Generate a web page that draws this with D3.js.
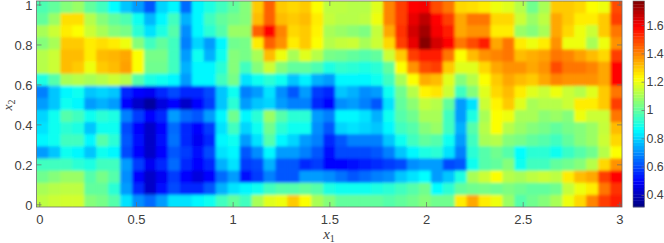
<!DOCTYPE html>
<html>
<head>
<meta charset="utf-8">
<title>Heat map</title>
<script src="https://d3js.org/d3.v7.min.js"></script>
<style>
  html, body { margin: 0; padding: 0; background: #fff; }
  svg { display: block; }
  text { font-family: "Liberation Sans", sans-serif; fill: #404040; }
</style>
</head>
<body>
<div id="home"></div>
<script>
// values, top row (x2 = 1) first
const row0  = [.97,1.0,1.05,1.08,1.0,.95,.86,.78,.72,.62,.8,.85,.65,.85,.9,.95,1.0,1.05,1.3,1.45,1.3,1.28,1.3,1.22,1.13,1.13,1.12,1.12,1.18,1.4,1.5,1.58,1.6,1.48,1.42,1.28,1.27,1.25,1.2,1.18,1.12,1.02,1.1,1.3,1.3,1.28,1.22,1.2,1.48];
const row1  = [1.0,1.08,1.27,1.27,1.12,1.05,1.0,.97,.88,.76,.85,.95,.75,.85,.95,1.0,1.03,1.05,1.32,1.45,1.32,1.3,1.32,1.25,1.14,1.12,1.12,1.13,1.2,1.4,1.5,1.62,1.68,1.58,1.5,1.35,1.42,1.42,1.28,1.28,1.15,1.08,1.13,1.35,1.3,1.25,1.25,1.3,1.5];
const row2  = [1.1,1.15,1.25,1.22,1.15,1.1,1.05,1.03,.92,.82,.9,.98,.7,.85,.92,.98,1.08,1.08,1.45,1.58,1.4,1.28,1.3,1.24,1.1,1.08,1.06,1.04,1.14,1.35,1.52,1.65,1.72,1.6,1.55,1.35,1.38,1.38,1.25,1.25,1.08,1.05,1.1,1.35,1.28,1.2,1.15,1.3,1.42];
const row3  = [1.05,1.1,1.3,1.3,1.25,1.27,1.25,1.2,1.05,.95,1.0,.95,.68,.8,.72,.85,1.02,1.03,1.25,1.45,1.38,1.25,1.3,1.22,1.12,1.14,1.15,1.1,1.15,1.28,1.5,1.62,1.76,1.65,1.58,1.42,1.48,1.55,1.35,1.42,1.25,1.2,1.25,1.38,1.2,1.2,1.1,1.2,1.38];
const row4  = [1.12,1.15,1.32,1.32,1.25,1.32,1.33,1.35,1.22,1.03,1.03,.95,.72,.88,.75,.88,1.05,1.03,1.1,1.32,1.2,1.1,1.18,1.12,1.03,1.02,1.0,.98,1.0,1.15,1.3,1.5,1.55,1.55,1.42,1.22,1.32,1.38,1.4,1.42,1.32,1.34,1.36,1.42,1.4,1.36,1.32,1.28,1.5];
const row5  = [1.12,1.15,1.32,1.3,1.2,1.3,1.32,1.36,1.22,1.02,1.02,.95,.75,.85,.85,.92,1.05,.95,1.05,1.15,1.05,1.0,1.0,.97,.9,.93,.92,.9,.92,1.0,1.22,1.38,1.48,1.5,1.3,1.18,1.18,1.28,1.35,1.38,1.38,1.35,1.38,1.48,1.42,1.42,1.4,1.35,1.58];
const row6  = [.9,.98,1.1,1.12,1.1,1.12,1.15,1.12,.98,.9,.88,.85,.72,.85,.85,.95,1.03,.82,.88,.92,.88,.78,.84,.75,.72,.85,.85,.85,.88,.95,1.1,1.22,1.34,1.32,1.18,1.05,1.12,1.22,1.3,1.35,1.32,1.3,1.35,1.4,1.38,1.38,1.38,1.35,1.58];
const row7  = [.68,.78,.85,.88,.78,.8,.78,.55,.5,.48,.55,.6,.55,.55,.6,.78,.88,.68,.72,.82,.7,.62,.72,.58,.55,.78,.75,.7,.72,.88,1.02,1.12,1.24,1.26,1.15,.95,1.05,1.18,1.28,1.32,1.25,1.18,1.15,1.2,1.15,1.12,1.18,1.3,1.42];
const row8  = [.72,.78,.88,.85,.72,.75,.72,.5,.42,.36,.45,.5,.42,.5,.58,.78,.92,.72,.78,.8,.72,.68,.68,.55,.5,.7,.72,.68,.62,.82,1.0,1.06,1.14,1.12,1.0,.72,.82,1.15,1.24,1.3,1.18,1.1,1.12,1.12,1.15,1.25,1.25,1.3,1.5];
const row9  = [.8,.88,.98,.95,.88,.92,.9,.68,.58,.5,.55,.72,.65,.62,.72,.85,1.02,.85,.92,1.08,.98,.92,.92,.72,.68,.85,.85,.82,.75,.88,.98,1.02,1.1,1.1,.95,.72,.9,1.1,1.22,1.2,1.1,1.1,1.06,1.08,1.05,1.2,1.15,1.15,1.42];
const row10 = [.82,.88,.92,.9,.78,.88,.88,.6,.5,.42,.5,.65,.55,.5,.58,.82,.95,.8,.88,1.02,.92,.88,.88,.7,.62,.8,.82,.8,.78,.85,.95,.98,1.05,1.08,.95,.75,.98,1.12,1.22,1.12,1.08,1.05,1.03,1.0,1.03,1.05,1.08,1.14,1.32];
const row11 = [.85,.88,.95,.95,.85,.98,.92,.62,.52,.42,.52,.66,.55,.48,.55,.85,.88,.72,.82,.98,.85,.8,.72,.68,.55,.62,.68,.68,.68,.78,.88,.95,1.0,.98,.88,.72,.95,1.1,1.12,1.05,1.03,1.0,.98,.95,1.0,1.05,1.08,1.15,1.28];
const row12 = [.72,.78,.88,.85,.78,.88,.85,.6,.5,.42,.5,.62,.58,.52,.6,.82,.85,.62,.7,.85,.72,.72,.68,.62,.52,.6,.6,.6,.62,.68,.78,.85,.9,.92,.82,.68,.92,.98,1.02,.98,.86,.92,.92,.88,.94,.98,1.02,1.12,1.22];
const row13 = [.95,.95,.95,.92,.9,.95,.95,.72,.58,.48,.55,.65,.55,.5,.55,.75,.82,.58,.6,.75,.62,.62,.55,.58,.5,.5,.52,.54,.56,.58,.6,.7,.72,.72,.6,.62,.88,.98,1.0,1.05,.88,.95,.95,1.0,1.02,1.05,1.12,1.28,1.38];
const row14 = [1.02,1.05,1.08,1.08,.98,1.03,.98,.7,.5,.42,.48,.58,.5,.45,.5,.65,.72,.52,.58,.68,.62,.62,.72,.72,.7,.66,.62,.65,.68,.7,.78,.82,.86,.72,.78,.9,1.1,1.15,1.22,1.12,1.1,1.13,1.15,1.13,1.25,1.32,1.35,1.5,1.58];
const row15 = [1.1,1.12,1.13,1.13,1.0,1.0,.92,.72,.55,.42,.52,.6,.55,.55,.62,.75,.82,.85,.88,.95,.98,.98,1.0,.98,.9,.88,.88,.88,.9,.92,.95,.98,1.02,.86,.92,1.0,1.02,1.03,1.02,1.04,1.02,1.0,1.0,1.02,1.14,1.2,1.25,1.42,1.52];
const row16 = [1.13,1.15,1.16,1.16,1.05,1.03,.98,.82,.7,.65,.72,.82,.82,.85,.88,.95,1.0,.95,1.1,1.18,1.2,1.3,1.22,1.1,1.05,1.0,1.0,1.0,1.0,.98,1.0,1.02,1.05,1.02,1.02,1.25,1.35,1.25,1.2,1.08,.98,1.02,1.05,1.1,1.2,1.28,1.4,1.5,1.55];
const rows = [row0,row1,row2,row3,row4,row5,row6,row7,row8,row9,row10,row11,row12,row13,row14,row15,row16];

const xTicks = [0, 0.5, 1, 1.5, 2, 2.5, 3];
const yTicks = [0, 0.2, 0.4, 0.6, 0.8, 1];
const cTicks = [0.4, 0.6, 0.8, 1, 1.2, 1.4, 1.6];
const cRange = [0.315, 1.77];

const w = 664;
const h = 243;
const frameColor = "#6b6b6b";

const svg = d3.select("#home")
              .append("svg")
              .attr("width", w)
              .attr("height", h);

const xScale = d3.scaleLinear().domain([-0.0145, 3.0135]).range([36.5, 622]);
const yScale = d3.scaleLinear().domain([-0.0135, 1.0175]).range([207, 1]);
const cScale = d3.scaleLinear().domain(cRange).range([207, 1]);

// cells sit on their own index scales, spread over the whole frame
const colBand = d3.scaleBand().domain(d3.range(rows[0].length)).range(xScale.range());
const rowBand = d3.scaleBand().domain(d3.range(rows.length)).range(yScale.range().slice().reverse());

//MATLAB jet
function jet(t) {
    const ramp = (c) => Math.max(0, Math.min(1, 1.5 - Math.abs(4 * t - c)));
    return d3.rgb(255 * ramp(3), 255 * ramp(2), 255 * ramp(1));
}
const colorOf = (v) => jet((v - cRange[0]) / (cRange[1] - cRange[0]));

// the reference is a soft, resampled image: a small blur, clipped to the frame
const defs = svg.append("defs");
defs.append("clipPath").attr("id", "plotClip")
    .append("rect").attr("x", 36.5).attr("y", 1).attr("width", 585.5).attr("height", 206);
defs.append("filter").attr("id", "soft")
    .append("feGaussianBlur").attr("stdDeviation", 1.6);

function drawCells(parent) {
    parent.selectAll("g")
       .data(rows)
       .enter()
       .append("g")
       .attr("transform", (d, i) => "translate(0," + rowBand(i) + ")")
       .selectAll("rect")
       .data((d) => d)
       .enter()
       .append("rect")
       .attr("x", (d, i) => colBand(i))
       .attr("width", colBand.bandwidth() + 0.3)
       .attr("height", rowBand.bandwidth() + 0.3)
       .attr("fill", colorOf);
}
// sharp layer underneath keeps the frame edges full colour under the blurred one
const plot = svg.append("g").attr("clip-path", "url(#plotClip)");
plot.append("g").call(drawCells);
plot.append("g").attr("filter", "url(#soft)").call(drawCells);

// colour bar, 64 levels like the jet map
const levels = d3.range(64);
const levelBand = d3.scaleBand().domain(levels).range([207, 1]);
svg.append("g")
   .selectAll("rect")
   .data(levels)
   .enter()
   .append("rect")
   .attr("x", 633)
   .attr("y", (d) => levelBand(d))
   .attr("width", 11.5)
   .attr("height", levelBand.bandwidth() + 0.3)
   .attr("fill", (d) => jet((d + 0.5) / 64));

function styleAxis(g, fontSize) {
    g.select(".domain").remove();
    g.selectAll("line").attr("stroke", frameColor).attr("stroke-width", 0.7);
    if (fontSize) g.selectAll("text").style("font-size", fontSize).style("fill", "#404040");
    else g.selectAll("text").remove();
}

svg.append("g").attr("transform", "translate(0,207)")
   .call(d3.axisBottom(xScale).tickValues(xTicks).tickSizeInner(-5).tickPadding(8).tickFormat((d) => d))
   .call(styleAxis, "13px");
svg.append("g").attr("transform", "translate(0,1)")
   .call(d3.axisTop(xScale).tickValues(xTicks).tickSizeInner(-5))
   .call(styleAxis, null);
svg.append("g").attr("transform", "translate(36.5,0)")
   .call(d3.axisLeft(yScale).tickValues(yTicks).tickSizeInner(-5).tickPadding(4).tickFormat((d) => d))
   .call(styleAxis, "13px")
   .call((g) => g.selectAll("text").attr("dy", "0.38em"));
svg.append("g").attr("transform", "translate(622,0)")
   .call(d3.axisRight(yScale).tickValues(yTicks).tickSizeInner(-5))
   .call(styleAxis, null);
svg.append("g").attr("transform", "translate(644.5,0)")
   .call(d3.axisRight(cScale).tickValues(cTicks).tickSizeInner(-3).tickPadding(2).tickFormat((d) => d))
   .call(styleAxis, "12.4px");

svg.append("rect")
   .attr("x", 36.5).attr("y", 1)
   .attr("width", 585.5).attr("height", 206)
   .attr("fill", "none").attr("stroke", frameColor).attr("stroke-width", 0.8);
svg.append("rect")
   .attr("x", 633).attr("y", 1)
   .attr("width", 11.5).attr("height", 206)
   .attr("fill", "none").attr("stroke", frameColor).attr("stroke-width", 0.6);

// axis titles
function mathLabel(sel, size, sub) {
    sel.style("font-family", "'Liberation Serif', serif").style("font-style", "italic").style("font-size", size).text("x");
    sel.append("tspan").attr("dy", 3).style("font-size", "10px").style("font-style", "normal").text(sub);
}
svg.append("text")
   .attr("text-anchor", "middle")
   .attr("x", 329).attr("y", 239)
   .call(mathLabel, "15px", "1");
svg.append("text")
   .attr("text-anchor", "middle")
   .attr("transform", "translate(12,105) rotate(-90)")
   .call(mathLabel, "13.5px", "2");
</script>
</body>
</html>
